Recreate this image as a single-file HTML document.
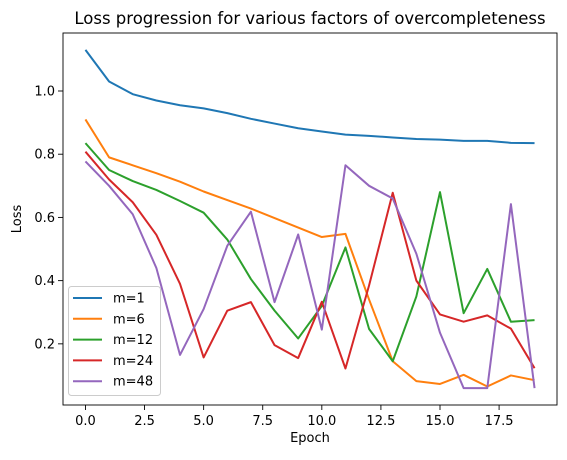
<!DOCTYPE html>
<html><head><meta charset="utf-8"><style>
body{margin:0;background:#fff;font-family:"Liberation Sans","DejaVu Sans",sans-serif}
svg text{font-family:"DejaVu Sans","Liberation Sans",sans-serif}
</style></head><body>
<svg id="c" width="567" height="455" xmlns="http://www.w3.org/2000/svg"></svg>
<script>
const epochs=[0,1,2,3,4,5,6,7,8,9,10,11,12,13,14,15,16,17,18,19];
const seriesNames=["m=1","m=6","m=12","m=24","m=48"];
const colors=["#1f77b4","#ff7f0e","#2ca02c","#d62728","#9467bd"];
const m1=[1.13,1.03,0.99,0.97,0.955,0.945,0.93,0.912,0.897,0.882,0.872,0.862,0.858,0.853,0.848,0.846,0.842,0.842,0.836,0.835];
const m6=[0.91,0.79,0.765,0.74,0.713,0.682,0.655,0.628,0.598,0.568,0.538,0.548,0.34,0.145,0.082,0.073,0.102,0.065,0.10,0.085];
const m12=[0.835,0.75,0.715,0.687,0.652,0.615,0.53,0.405,0.305,0.217,0.32,0.505,0.247,0.145,0.35,0.68,0.297,0.437,0.27,0.275];
const m24=[0.808,0.72,0.648,0.545,0.39,0.157,0.305,0.332,0.196,0.155,0.333,0.122,0.385,0.678,0.4,0.293,0.27,0.29,0.248,0.123];
const m48=[0.777,0.70,0.61,0.44,0.165,0.31,0.51,0.618,0.332,0.546,0.245,0.765,0.70,0.66,0.485,0.235,0.06,0.06,0.642,0.06];
const xTicks=[0,2.5,5,7.5,10,12.5,15,17.5];
const xTickLabels=["0.0","2.5","5.0","7.5","10.0","12.5","15.0","17.5"];
const yTicks=[0.2,0.4,0.6,0.8,1.0];
const yTickLabels=["0.2","0.4","0.6","0.8","1.0"];
const all=[m1,m6,m12,m24,m48];
const svg=document.getElementById('c');const NS="http://www.w3.org/2000/svg";
const L=63,R=557,T=33,B=405;
const flat=all.flat();const dmin=Math.min(...flat),dmax=Math.max(...flat);
const ymin=dmin-0.05*(dmax-dmin),ymax=dmax+0.05*(dmax-dmin);
const xmin=epochs[0]-0.05*(epochs[epochs.length-1]-epochs[0]),xmax=epochs[epochs.length-1]+0.05*(epochs[epochs.length-1]-epochs[0]);
const X=v=>L+(v-xmin)/(xmax-xmin)*(R-L);
const Y=v=>B-(v-ymin)/(ymax-ymin)*(B-T);
function el(t,a,p){const e=document.createElementNS(NS,t);for(const k in a)e.setAttribute(k,a[k]);(p||svg).appendChild(e);return e;}
let t=el('text',{x:310,y:24,'text-anchor':'middle','font-size':16.5});t.textContent="Loss progression for various factors of overcompleteness";


xTicks.forEach((v,i)=>{const g=el('g',{});


el('line',{x1:X(v),x2:X(v),y1:B,y2:B+5,stroke:'#000','stroke-width':0.9},g);
const tx=el('text',{x:X(v),y:B+20,'text-anchor':'middle','font-size':13},g);tx.textContent=xTickLabels[i];});
yTicks.forEach((v,i)=>{const g=el('g',{});


el('line',{x1:L-5,x2:L,y1:Y(v),y2:Y(v),stroke:'#000','stroke-width':0.9},g);
const tx=el('text',{x:L-8,y:Y(v)+4.5,'text-anchor':'end','font-size':13},g);tx.textContent=yTickLabels[i];});
t=el('text',{x:(L+R)/2,y:442,'text-anchor':'middle','font-size':13});t.textContent="Epoch";


t=el('text',{x:21,y:(T+B)/2,'text-anchor':'middle','font-size':13,transform:`rotate(-90 21 ${(T+B)/2})`});t.textContent="Loss";


all.forEach((s,i)=>{const p=el('polyline',{points:s.map((v,j)=>X(epochs[j])+','+Y(v)).join(' '),fill:'none',stroke:colors[i],'stroke-width':2,'stroke-linejoin':'round'});

});
const fr=el('rect',{x:L,y:T,width:R-L,height:B-T,fill:'none',stroke:'#000','stroke-width':0.9});


const lg=el('g',{});


el('rect',{x:68.5,y:286.5,width:92,height:109,rx:3,fill:'#fff','fill-opacity':0.8,stroke:'#ccc'},lg);
seriesNames.forEach((n,i)=>{const g=el('g',{},lg);


const yy=298+i*20.8;
el('line',{x1:73,x2:102,y1:yy,y2:yy,stroke:colors[i],'stroke-width':2},g);
const tx=el('text',{x:113,y:yy+4.5,'font-size':13},g);tx.textContent=n;});
</script>
</body></html>
